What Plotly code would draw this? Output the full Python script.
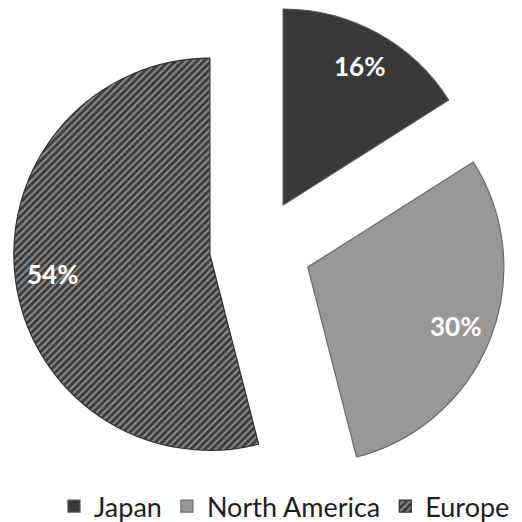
import math
import plotly.graph_objects as go

regions = ["Japan", "North America", "Europe"]
shares = [16, 30, 54]
pulls = [0.25, 0.265, 0.255]
colors = ["#393939", "#979797", "#3e3e3e"]
edge_colors = ["#555555", "#6a6a6a", "#303030"]

W = 522
H = 531  # slightly taller than the window so the legend sits lower, like the original
dom_x = [0.0220, 0.9722]
dom_y = [1 - 496 / H, 1.0]
label_frac = 0.81  # label distance from slice apex, as fraction of radius

fig = go.Figure(
    go.Pie(
        labels=regions,
        values=shares,
        sort=False,
        direction="clockwise",
        rotation=0,
        pull=pulls,
        textinfo="none",
        marker=dict(
            colors=colors,
            line=dict(color=edge_colors, width=1.2),
            pattern=dict(
                shape=["", "", "/"],
                fgcolor="#8e8e8e",
                bgcolor=colors,
                size=5,
                solidity=0.4,
                fillmode="replace",
            ),
        ),
        domain=dict(x=dom_x, y=dom_y),
        hoverinfo="label+percent",
    )
)

# percentage labels, placed along each slice's mid-angle (Excel "inside end" style)
bw = W * (dom_x[1] - dom_x[0])
bh = H * (dom_y[1] - dom_y[0])
r = min(bw, bh) / 2 / (1 + max(pulls))
cx = W * (dom_x[0] + dom_x[1]) / 2
cy = H * (1 - dom_y[0]) - bh / 2
total = sum(shares)
cum = 0
for name, v, p in zip(regions, shares, pulls):
    mid = (cum + v / 2) / total * 2 * math.pi
    cum += v
    d = r * (p + label_frac)
    px = cx + d * math.sin(mid)
    py = cy - d * math.cos(mid)
    fig.add_annotation(
        x=px / W, y=1 - py / H, xref="paper", yref="paper",
        text=f"{round(v / total * 100)}%", showarrow=False,
        font=dict(family="Lato", size=26, color="white", weight="bold"),
        xanchor="center", yanchor="middle",
    )

fig.update_layout(
    width=W,
    height=H,
    margin=dict(l=0, r=0, t=0, b=0),
    paper_bgcolor="white",
    plot_bgcolor="white",
    showlegend=True,
    legend=dict(
        orientation="h",
        x=0.545,
        xanchor="center",
        y=0.0,
        yanchor="bottom",
        font=dict(family="Lato", size=27, color="#1e1e1e"),
        bgcolor="rgba(0,0,0,0)",
    ),
)

fig.write_html(
    "out.html",
    config={"displayModeBar": False},
    post_script="document.body.style.margin='0';document.body.style.overflow='hidden';",
)
